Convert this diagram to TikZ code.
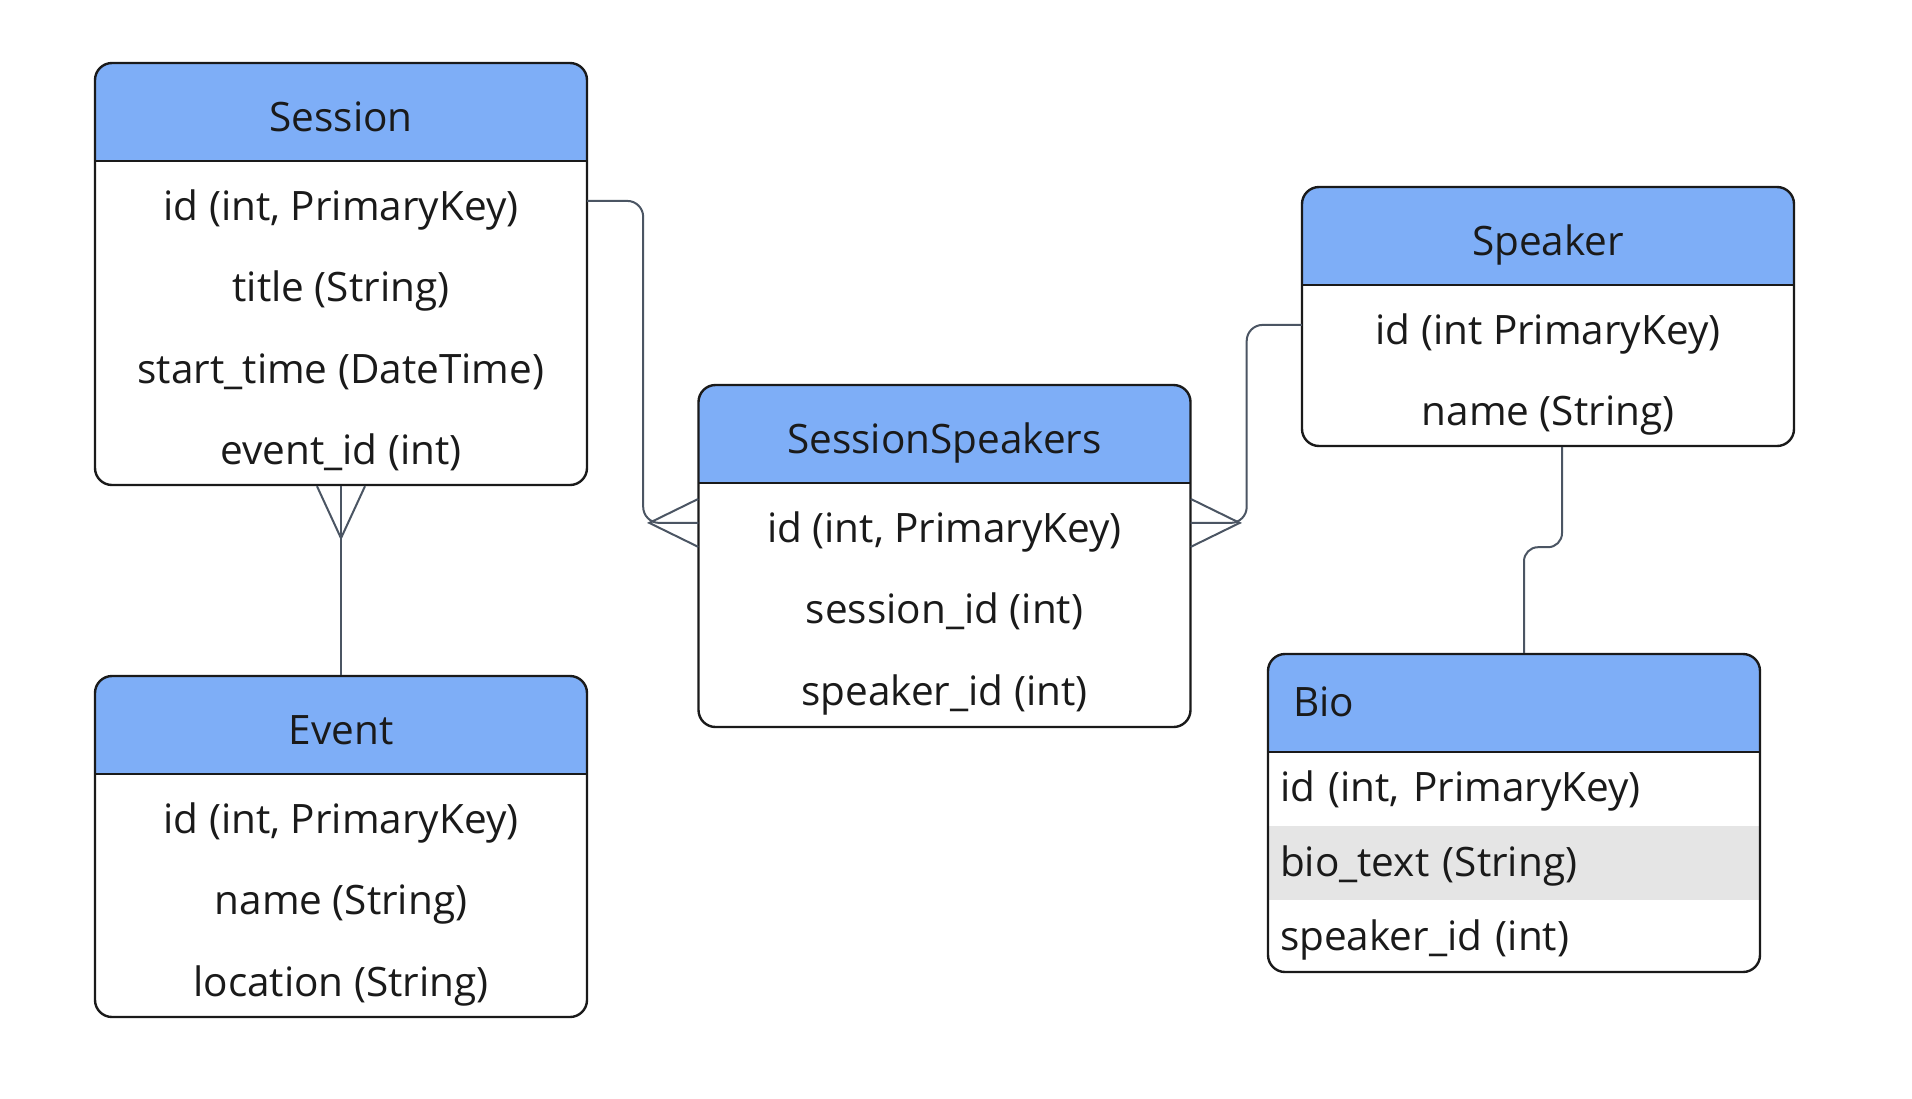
\documentclass[tikz,border=0pt]{standalone}
\usepackage{fontspec}
\setmainfont{Open Sans}
\usetikzlibrary{positioning}

\definecolor{hdrblue}{HTML}{7EAEF7}
\definecolor{rowgray}{HTML}{E5E5E5}
\definecolor{framedark}{HTML}{1A1A1A}
\definecolor{linegray}{HTML}{4B5563}

\tikzset{
	tbl/.style={draw=framedark, line width=2.4pt, fill=white, rounded corners=17pt,
		minimum width=492pt, inner sep=0pt},
	header band/.style={path picture={
		\fill[hdrblue, sharp corners] (path picture bounding box.north west)
			rectangle ([yshift=-98pt]path picture bounding box.north east);
		\draw[framedark, line width=2.2pt, sharp corners] ([yshift=-98pt]path picture bounding box.north west)
			-- ([yshift=-98pt]path picture bounding box.north east);
		#1}},
	header band/.default={},
	hdr/.style={minimum width=492pt, minimum height=98pt, inner sep=0pt, text=framedark,
		text height=43pt, text depth=2.6pt},
	row/.style={minimum width=492pt, minimum height=81pt, inner sep=0pt, text=framedark,
		text height=43pt, text depth=4pt},
	biohdr/.style={hdr, text width=442pt, inner xsep=25pt, align=left,
		text height=32pt, text depth=4pt},
	biorow/.style={row, minimum height=74pt, text width=468pt, inner xsep=12pt, align=left,
		text height=31pt, text depth=4pt},
	conn/.style={draw=linegray, line width=2pt},
}

\begin{document}
\begin{tikzpicture}[x=1pt, y=-1pt, font=\fontsize{40.5}{48}\selectfont]
	\useasboundingbox (0,0) rectangle (1912,1098);

	% Session
	\node[tbl, minimum height=422pt, header band] (session) at (341,274) {};
	\node[hdr, below=0pt of session.north] (sessionH) {Session};
	\node[row, below=0pt of sessionH] (session1) {id (int, PrimaryKey)};
	\node[row, below=0pt of session1] (session2) {title (String)};
	\node[row, below=0pt of session2] (session3) {start\_time (DateTime)};
	\node[row, below=0pt of session3] (session4) {event\_id (int)};

	% Event
	\node[tbl, minimum height=341pt, header band] (event) at (341,846.5) {};
	\node[hdr, below=0pt of event.north] (eventH) {Event};
	\node[row, below=0pt of eventH] (event1) {id (int, PrimaryKey)};
	\node[row, below=0pt of event1] (event2) {name (String)};
	\node[row, below=0pt of event2] (event3) {location (String)};

	% SessionSpeakers
	\node[tbl, minimum height=342pt, header band] (ssp) at (944.5,556) {};
	\node[hdr, below=0pt of ssp.north] (sspH) {SessionSpeakers};
	\node[row, below=0pt of sspH] (ssp1) {id (int, PrimaryKey)};
	\node[row, below=0pt of ssp1] (ssp2) {session\_id (int)};
	\node[row, below=0pt of ssp2] (ssp3) {speaker\_id (int)};

	% Speaker
	\node[tbl, minimum height=259pt, header band] (speaker) at (1548,316.5) {};
	\node[hdr, below=0pt of speaker.north] (speakerH) {Speaker};
	\node[row, below=0pt of speakerH] (speaker1) {id (int PrimaryKey)};
	\node[row, below=0pt of speaker1] (speaker2) {name (String)};

	% Bio
	\node[tbl, minimum height=318pt, header band={
		\fill[rowgray, sharp corners] ([yshift=-172pt]path picture bounding box.north west)
			rectangle ([yshift=-246pt]path picture bounding box.north east);}] (bio) at (1514,813) {};
	\node[biohdr, below=0pt of bio.north] (bioH) {Bio};
	\node[biorow, below=0pt of bioH] (bio1) {id (int, PrimaryKey)};
	\node[biorow, below=0pt of bio1] (bio2) {bio\_text (String)};
	\node[biorow, below=0pt of bio2] (bio3) {speaker\_id (int)};

	% relations
	\draw[conn] (session.south) -- (event.north);
	\coordinate[below=52pt of session.south] (sessionF);
	\draw[conn] ([xshift=-24pt]session.south) -- (sessionF) -- ([xshift=24pt]session.south);

	\draw[conn, rounded corners=16pt] (session1.east) -- ++(56,0) |- (ssp1.west);
	\coordinate[left=49pt of ssp1.west] (sspL);
	\draw[conn] ([yshift=24pt]ssp1.west) -- (sspL) -- ([yshift=-24pt]ssp1.west);

	\draw[conn, rounded corners=16pt] (ssp1.east) -- ++(56,0) |- (speaker1.west);
	\coordinate[right=49pt of ssp1.east] (sspR);
	\draw[conn] ([yshift=24pt]ssp1.east) -- (sspR) -- ([yshift=-24pt]ssp1.east);

	\draw[conn, rounded corners=14pt] ([xshift=14pt]speaker.south) -- ++(0,100) -| ([xshift=10pt]bio.north);
\end{tikzpicture}
\end{document}
